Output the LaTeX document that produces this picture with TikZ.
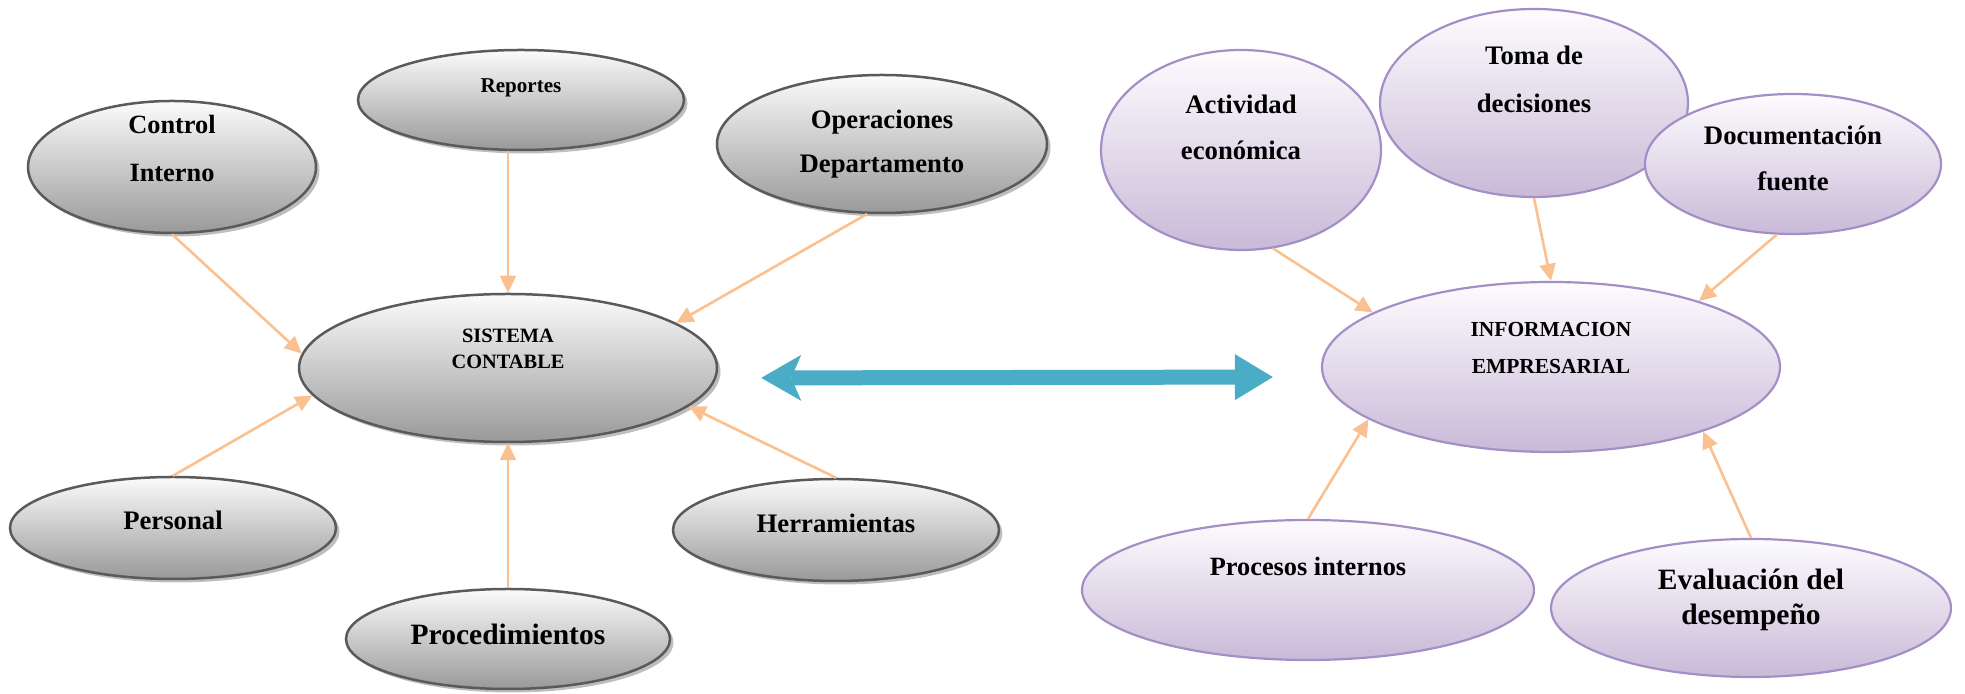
\documentclass[tikz,border=0pt]{standalone}
\usepackage{fontspec}
\setmainfont{Liberation Serif}
\usepackage{tikz}
\usetikzlibrary{shapes.geometric,arrows.meta,shadows}
\definecolor{grisborde}{HTML}{5A5A5A}
\definecolor{grisclaro}{HTML}{FBFBFB}
\definecolor{grisoscuro}{HTML}{999999}
\definecolor{sombra}{HTML}{BEBEBE}
\definecolor{lilaborde}{HTML}{A48EC6}
\definecolor{lilaclaro}{HTML}{FDFCFE}
\definecolor{lilaoscuro}{HTML}{C9BAD8}
\definecolor{naranja}{HTML}{FAC08F}
\definecolor{azul}{HTML}{4BACC6}
\tikzset{gris/.style={ellipse, draw=grisborde, line width=0.025cm, inner sep=0pt,
        top color=grisclaro, bottom color=grisoscuro,
        drop shadow={shadow xshift=0.035cm, shadow yshift=-0.035cm, fill=sombra, opacity=1}
    },
    lila/.style={ellipse, draw=lilaborde, line width=0.022cm, inner sep=0pt,
        top color=lilaclaro, bottom color=lilaoscuro
    },
    etiq/.style={align=center, inner sep=0pt},
    flecha/.style={draw=naranja, line width=0.026cm, -{Triangle[length=0.17cm, width=0.16cm]}},
    doble/.style={draw=azul, line width=0.15cm,
        {Stealth[length=0.4cm, width=0.46cm, inset=0.1cm, line width=0pt]}-{Triangle[length=0.38cm, width=0.46cm, line width=0pt]},
        shorten <=0.43cm, shorten >=0.48cm
    }
}

\begin{document}
\begin{tikzpicture}
    \useasboundingbox (0,0) rectangle (19.65,-6.94);
    \node[gris, minimum width=2.88cm, minimum height=1.32cm] (ctl) at (1.72,-1.67) {};
    \node[gris, minimum width=3.26cm, minimum height=1.00cm] (rep) at (5.21,-1.00) {};
    \node[gris, minimum width=3.30cm, minimum height=1.38cm] (ope) at (8.82,-1.44) {};
    \node[gris, minimum width=4.18cm, minimum height=1.48cm] (sis) at (5.08,-3.68) {};
    \node[gris, minimum width=3.26cm, minimum height=1.02cm] (per) at (1.73,-5.28) {};
    \node[gris, minimum width=3.26cm, minimum height=1.02cm] (her) at (8.36,-5.30) {};
    \node[gris, minimum width=3.24cm, minimum height=1.00cm] (pro) at (5.08,-6.39) {};

    \node[lila, minimum width=2.80cm, minimum height=2.00cm] (act) at (12.41,-1.50) {};
    \node[lila, minimum width=3.08cm, minimum height=1.88cm] (tom) at (15.34,-1.03) {};
    \node[lila, minimum width=2.96cm, minimum height=1.40cm] (doc) at (17.93,-1.64) {};
    \node[lila, minimum width=4.58cm, minimum height=1.70cm] (inf) at (15.51,-3.67) {};
    \node[lila, minimum width=4.52cm, minimum height=1.40cm] (prc) at (13.08,-5.90) {};
    \node[lila, minimum width=4.00cm, minimum height=1.38cm] (eva) at (17.51,-6.08) {};

    \node[etiq, font={\bfseries\fontsize{7.5}{13.4}\selectfont}] (ctl-t) at ([yshift=0.185cm]ctl.center) {Control\\Interno};
    \node[etiq, font={\bfseries\fontsize{6}{7}\selectfont}] (rep-t) at ([yshift=0.12cm]rep.center) {Reportes};
    \node[etiq, font={\bfseries\fontsize{7.6}{12.5}\selectfont}] (ope-t) at (ope.center) {Operaciones\\Departamento};
    \node[etiq, font={\bfseries\fontsize{5.8}{7.4}\selectfont}] (sis-t) at ([yshift=0.19cm]sis.center) {SISTEMA\\CONTABLE};
    \node[etiq, font={\bfseries\fontsize{7.6}{9}\selectfont}] (per-t) at ([yshift=0.08cm]per.center) {Personal};
    \node[etiq, font={\bfseries\fontsize{7.6}{9}\selectfont}] (her-t) at ([yshift=0.07cm]her.center) {Herramientas};
    \node[etiq, font={\bfseries\fontsize{8.4}{10}\selectfont}] (pro-t) at ([yshift=0.05cm]pro.center) {Procedimientos};

    \node[etiq, font={\bfseries\fontsize{7.6}{13.1}\selectfont}] (act-t) at ([yshift=0.23cm]act.center) {Actividad\\económica};
    \node[etiq, font={\bfseries\fontsize{7.6}{13.7}\selectfont}] (tom-t) at ([yshift=0.24cm]tom.center) {Toma de\\decisiones};
    \node[etiq, font={\bfseries\fontsize{7.6}{13.1}\selectfont}] (doc-t) at ([yshift=0.055cm]doc.center) {Documentación\\fuente};
    \node[etiq, font={\bfseries\fontsize{6.1}{10.5}\selectfont}] (inf-t) at ([yshift=0.19cm]inf.center) {INFORMACION\\EMPRESARIAL};
    \node[etiq, font={\bfseries\fontsize{7.5}{9}\selectfont}] (prc-t) at ([yshift=0.24cm]prc.center) {Procesos internos};
    \node[etiq, font={\bfseries\fontsize{8.4}{10}\selectfont}] (eva-t) at ([yshift=0.08cm]eva.center) {Evaluación del\\desempeño};

    \draw[flecha] (ctl.south) -- (sis.176);
    \draw[flecha] (rep.south -| sis.north) -- (sis.north);
    \draw[flecha] (ope.258) -- (sis.15);
    \draw[flecha] (per.north) -- (sis.188);
    \draw[flecha] (pro.north) -- (sis.south);
    \draw[flecha] (her.north) -- (sis.-12);

    \draw[flecha] (act.288) -- (inf.163);
    \draw[flecha] (tom.south) -- (inf.north);
    \draw[flecha] (doc.257) -- (inf.24);
    \draw[flecha] (prc.north) -- (inf.196);
    \draw[flecha] (eva.north) -- (inf.337);

    \draw[doble] ([yshift=-0.1cm]sis.east) -- ([yshift=-0.1cm]inf.west);
\end{tikzpicture}
\end{document}
